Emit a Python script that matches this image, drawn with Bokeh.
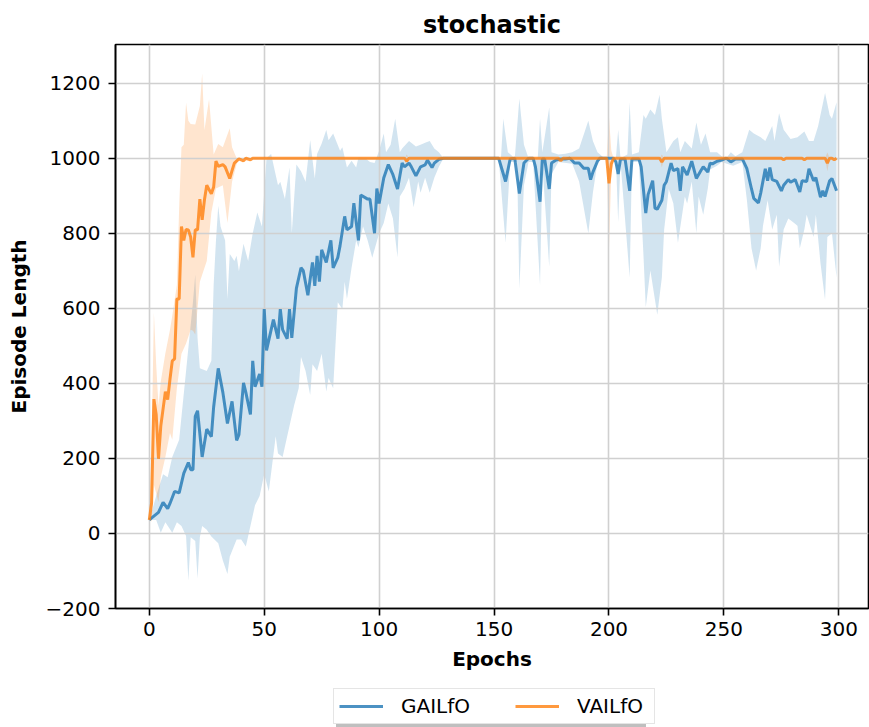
from bokeh.plotting import figure
from bokeh.layouts import column
from bokeh.models import Range1d, FixedTicker, Legend, LegendItem
from bokeh.embed import file_html
from bokeh.resources import INLINE

# ---------------- data ----------------
gail_epochs = [0, 2, 4, 6, 8, 9, 11, 13, 15, 17, 18, 19, 20, 21, 23, 25, 27, 28, 30, 32, 34, 36, 38, 39,
               41, 42, 44, 45, 46, 48, 49, 50, 51, 54, 56, 57, 58, 60, 61, 62, 64, 66, 67, 69, 71, 72,
               73, 74, 75, 77, 79, 80, 82, 83, 85, 86, 88, 89, 91, 92, 95, 96, 98, 99, 100,
               102, 104, 106, 108, 110, 111, 113, 114, 116, 118, 120, 121, 123, 124, 126, 128, 152,
               155, 157, 159, 161, 163, 165, 167, 168, 170, 171, 172, 174, 175, 177, 179, 181, 183, 185,
               187, 189, 191, 192, 193, 195, 196, 200, 202, 203, 204, 205, 207, 209, 210, 213, 214, 216,
               217, 219, 220, 221, 223, 224, 225, 227, 228, 230, 231, 232, 234, 236, 238, 240, 241, 243,
               244, 245, 247, 249, 251, 253, 255, 258, 260, 262, 263, 265, 266, 268, 269, 270, 271, 273,
               275, 276, 278, 279, 281, 283, 284, 286, 287, 289, 290, 292, 293, 294, 296, 297, 299]
gail_mean = [36, 46, 56, 83, 66, 80, 112, 108, 160, 189, 170, 170, 312, 327, 204, 278, 258, 337, 440, 376,
             293, 352, 248, 263, 401, 376, 317, 460, 391, 425, 391, 598, 488, 570, 519, 598, 543, 519,
             598, 521, 653, 708, 700, 635, 722, 660, 740, 671, 756, 722, 781, 708, 735, 767, 845,
             809, 818, 880, 781, 902, 891, 891, 800, 919, 879, 947, 983, 956, 918, 987, 977, 987,
             977, 953, 977, 982, 995, 975, 987, 997, 1000, 1000, 938, 998, 1000, 906, 987, 1000, 1000, 977,
             884, 998, 998, 918, 987, 995, 998, 998, 1000, 987, 987, 973, 973, 943, 963, 992, 1000, 1000,
             1000, 990, 958, 998, 998, 913, 998, 998, 977, 854, 903, 940, 867, 864, 888, 928, 938, 987, 967,
             972, 913, 977, 955, 992, 946, 967, 977, 963, 987, 985, 992, 995, 1000, 990, 998, 998, 972, 918,
             893, 881, 907, 972, 940, 975, 943, 938, 913, 928, 943, 936, 943, 910, 940, 938, 972, 940, 948,
             896, 913, 898, 940, 946, 913]

gail_hi_epochs = [0, 3, 6, 8, 10, 13, 16, 19, 20, 21, 22, 25, 27, 28, 29, 30, 31, 33, 34, 35, 37, 38, 39,
                  41, 43, 45, 47, 49, 51, 53, 55, 56, 57, 59, 61, 62, 64, 66, 68, 70, 72, 73, 75, 77, 78,
                  80, 83, 84, 86, 88, 90, 91, 94, 96, 98, 100, 102, 103, 105, 107, 109, 110, 113, 116,
                  118, 120, 122, 124, 126, 128, 153, 154, 156, 159, 161, 163, 165, 169, 170, 171, 174, 175,
                  178, 181, 184, 187, 191, 193, 195, 198, 203, 204, 205, 208, 209, 210, 213, 215, 216, 218,
                  220, 222, 223, 225, 227, 228, 230, 231, 233, 236, 238, 240, 242, 244, 247, 249, 251, 253,
                  255, 258, 260, 261, 263, 266, 268, 271, 272, 274, 276, 279, 282, 285, 287, 289, 291, 294,
                  296, 297, 299]
gail_hi = [36, 100, 158, 150, 204, 250, 433, 616, 690, 520, 440, 433, 460, 662, 780, 873, 818, 781, 625,
           745, 726, 740, 699, 772, 726, 800, 855, 818, 1000, 1011, 955, 928, 937, 891, 975, 800, 983,
           965, 937, 1048, 946, 1011, 1039, 1075, 1048, 1066, 1020, 1029, 975, 993, 975, 1002, 1000,
           990, 987, 1020, 1066, 1016, 1036, 1105, 1016, 1026, 1046, 1031, 1036, 1041, 1046, 1026, 1016,
           1000, 1000, 1105, 1016, 1000, 1159, 1036, 1000, 1000, 1105, 1016, 1135, 1016, 1010, 1012, 1016,
           1026, 1100, 1046, 1016, 1000, 1000, 1076, 1000, 1010, 1149, 1010, 1016, 1115, 1105, 1130, 1115,
           1169, 1105, 1016, 1036, 1046, 1056, 1016, 1046, 1026, 1095, 1036, 1066, 1016, 1016, 1005, 1000,
           1016, 1005, 1016, 1056, 1076, 1066, 1056, 1046, 1086, 1046, 1120, 1076, 1051, 1056, 1071, 1046,
           1046, 1086, 1174, 1115, 1105, 1149]

gail_lo_epochs = [0, 3, 5, 7, 10, 12, 14, 16, 17, 18, 20, 21, 22, 23, 25, 27, 30, 32, 34, 35, 38, 40, 42,
                  44, 46, 48, 50, 52, 55, 56, 58, 60, 63, 65, 66, 68, 70, 71, 73, 75, 77, 78, 80, 82, 84,
                  85, 86, 88, 90, 91, 93, 95, 97, 100, 102, 104, 106, 108, 109, 111,
                  113, 115, 117, 118, 120, 122, 124, 126, 128, 152, 155, 157, 160, 161, 163, 165, 167, 170,
                  171, 174, 175, 178, 184, 187, 191, 193, 195, 198, 203, 204, 205, 209, 210, 213, 215, 216,
                  218, 220, 221, 223, 224, 226, 228, 230, 233, 234, 236, 238, 239, 241, 243, 244, 247, 249,
                  254, 258, 260, 262, 264, 266, 267, 269, 271, 273, 274, 276, 278, 280, 282, 283, 285, 286,
                  289, 290, 292, 294, 295, 297, 299]
gail_lo = [36, 36, 2, 30, 2, 30, 20, -7, -126, -10, -20, -120, -10, 20, 10, -8, -26, -72, -108, -62, -16,
           -16, -35, 20, 75, 100, 158, 112, 259, 213, 204, 259, 341, 387, 470, 433, 369, 451, 433, 479,
           378, 414, 387, 616, 598, 671, 625, 708, 781, 763, 818, 781, 735, 800, 827, 879,
           839, 736, 898, 918, 948, 869, 938, 908, 948, 908, 948, 977, 1000, 1000, 775, 990, 990, 652, 928,
           990, 990, 662, 985, 711, 958, 990, 985, 938, 800, 908, 990, 1000, 1000, 829, 990, 682, 990, 990,
           741, 603, 701, 623, 583, 682, 810, 918, 879, 775, 898, 879, 938, 800, 898, 849, 920, 970, 980,
           990, 980, 990, 888, 760, 701, 760, 820, 888, 810, 849, 711, 810, 839, 830, 820, 760, 810, 849,
           790, 849, 721, 623, 790, 800, 682]

vail_epochs = [0, 1, 2, 3, 4, 5, 7, 8, 9, 10, 11, 12, 13, 14, 15, 16, 17, 18, 19, 20, 21, 22, 23, 24, 25,
               27, 28, 29, 30, 32, 33, 35, 36, 37, 39, 41, 42, 44, 45, 111, 112, 113, 178, 179, 180, 199,
               200, 201, 202, 222, 223, 224, 275, 276, 277, 284, 285, 286, 294, 295, 296, 297, 298, 299]
vail_mean = [36, 81, 358, 317, 199, 286, 378, 357, 411, 460, 465, 625, 625, 818, 781, 810, 809, 790, 736,
             809, 809, 891, 836, 889, 928, 905, 923, 992, 978, 983, 977, 946, 967, 987, 998, 993, 1000,
             996, 1000, 1000, 992, 1000, 1000, 993, 1000, 1000, 933, 985, 1000, 1000, 990, 1000, 1000, 996,
             1000, 1000, 996, 1000, 1000, 987, 1000, 1000, 996, 1000]

vail_hi_epochs = [0, 1, 2, 3, 4, 5, 7, 9, 10, 12, 13, 14, 15, 16, 17, 18, 20, 22, 23, 24, 26, 28, 30, 32,
                  35, 36, 38, 111, 112, 113, 199, 200, 201, 202, 222, 223, 224, 294, 295, 296, 299]
vail_hi = [36, 229, 589, 450, 341, 405, 480, 543, 580, 662, 869, 1029, 1036, 1148, 1100, 1091, 1090, 1139,
           1226, 1075, 1157, 1010, 1038, 1029, 1080, 1029, 1000, 1000, 1010, 1000, 1000, 1110, 1020, 1000,
           1000, 1010, 1000, 1000, 1015, 1000, 1000]

vail_lo_epochs = [0, 1, 2, 4, 5, 7, 9, 10, 12, 14, 16, 18, 19, 20, 21, 22, 25, 27, 29, 32, 34, 36, 38, 39,
                  111, 112, 113, 199, 200, 201, 202, 222, 223, 224, 294, 295, 296, 299]
vail_lo = [36, 32, 130, 84, 150, 204, 268, 250, 387, 479, 506, 543, 540, 530, 600, 671, 726, 855, 919,
           928, 827, 937, 984, 1000, 1000, 975, 1000, 1000, 760, 960, 1000, 1000, 975, 1000, 1000, 965,
           1000, 1000]

x_ticks = [0, 50, 100, 150, 200, 250, 300]
y_ticks = [-200, 0, 200, 400, 600, 800, 1000, 1200]
series_names = ["GAILfO", "VAILfO"]
series_colors = ["#1f77b4", "#ff7f0e"]

# ---------------- main figure ----------------
FONT = "DejaVu Sans"
p = figure(width=869, height=680, output_backend="svg", toolbar_location=None,
           x_range=Range1d(-14.7, 312.9), y_range=Range1d(-200, 1303),
           title="stochastic", min_border_left=115, min_border_right=1,
           min_border_top=44, min_border_bottom=72)

p.title.align = "center"
p.title.text_font = FONT
p.title.text_font_size = "24px"
p.title.text_font_style = "bold"
p.title.text_color = "black"
p.title.standoff = 11

p.outline_line_color = "black"
p.outline_line_width = 1.6
p.outline_line_alpha = 1.0
p.background_fill_color = "white"
p.border_fill_color = "white"

for ax in (p.xaxis[0], p.yaxis[0]):
    ax.major_label_text_font = FONT
    ax.major_label_text_font_size = "20px"
    ax.major_label_text_color = "black"
    ax.axis_label_text_font = FONT
    ax.axis_label_text_font_size = "20px"
    ax.axis_label_text_font_style = "bold"
    ax.axis_label_text_color = "black"
    ax.axis_line_color = "black"
    ax.axis_line_width = 1.6
    ax.major_tick_line_color = "black"
    ax.major_tick_line_width = 1.6
    ax.major_tick_out = 7
    ax.major_tick_in = 0
    ax.minor_tick_line_color = None

p.xaxis.ticker = FixedTicker(ticks=x_ticks)
p.yaxis.ticker = FixedTicker(ticks=y_ticks)
p.yaxis.major_label_overrides = {t: ("\u2212" + str(-t) if t < 0 else str(t)) for t in y_ticks}
p.xaxis.axis_label = "Epochs"
p.yaxis.axis_label = "Episode Length"
p.xaxis.major_label_standoff = 6
p.yaxis.major_label_standoff = 8
p.xaxis.axis_label_standoff = 8
p.yaxis.axis_label_standoff = 12

p.xgrid.ticker = FixedTicker(ticks=x_ticks)
p.ygrid.ticker = FixedTicker(ticks=y_ticks)
for g in (p.xgrid[0], p.ygrid[0]):
    g.grid_line_color = "#d0d0d0"
    g.grid_line_width = 1.6


def band(fig, hx, hy, lx, ly, color):
    xs = list(hx) + list(reversed(lx))
    ys = list(hy) + list(reversed(ly))
    r = fig.patch(x=xs, y=ys, fill_color=color, fill_alpha=0.2, line_color=None)
    r.level = "image"
    return r


band(p, gail_hi_epochs, gail_hi, gail_lo_epochs, gail_lo, series_colors[0])
p.line(gail_epochs, gail_mean, line_color=series_colors[0], line_alpha=0.8, line_width=3)
band(p, vail_hi_epochs, vail_hi, vail_lo_epochs, vail_lo, series_colors[1])
p.line(vail_epochs, vail_mean, line_color=series_colors[1], line_alpha=0.8, line_width=3)

# ---------------- legend strip (with matplotlib-like shadow) ----------------
lf = figure(width=869, height=47, output_backend="svg", toolbar_location=None,
            x_range=Range1d(0, 1), y_range=Range1d(0, 1),
            min_border_left=115, min_border_right=1, min_border_top=0, min_border_bottom=0)
lf.axis.visible = False
lf.grid.visible = False
lf.outline_line_color = None
lf.background_fill_color = "white"
lf.border_fill_color = "white"

# one-point lines: nothing is drawn in the strip, but the legend glyphs get their style
g1 = lf.line(x=gail_epochs[:1], y=gail_mean[:1], line_color=series_colors[0], line_alpha=0.8, line_width=3)
g2 = lf.line(x=vail_epochs[:1], y=vail_mean[:1], line_color=series_colors[1], line_alpha=0.8, line_width=3)
s1 = lf.line(x=gail_epochs[:1], y=gail_mean[:1], line_alpha=0)
s2 = lf.line(x=vail_epochs[:1], y=vail_mean[:1], line_alpha=0)

common = dict(orientation="horizontal", label_text_font=FONT, label_text_font_size="20px",
              glyph_width=44, glyph_height=20, label_height=20, label_width=72, label_standoff=18,
              spacing=42, padding=5, margin=0)
shadow = Legend(items=[LegendItem(label=" ", renderers=[s1]),
                       LegendItem(label="  ", renderers=[s2])],
                location=(221, 0), label_text_alpha=0.0,
                background_fill_color="#808080", background_fill_alpha=0.5,
                border_line_color=None, **common)
main = Legend(items=[LegendItem(label=series_names[0], renderers=[g1]),
                     LegendItem(label=series_names[1], renderers=[g2])],
              location=(218, 3), label_text_color="black",
              background_fill_color="white", background_fill_alpha=1.0,
              border_line_color="#cccccc", border_line_width=1.6, **common)
lf.add_layout(shadow, "center")
lf.add_layout(main, "center")

layout = column(p, lf, spacing=0)
open("out.html", "w").write(file_html(layout, INLINE))
